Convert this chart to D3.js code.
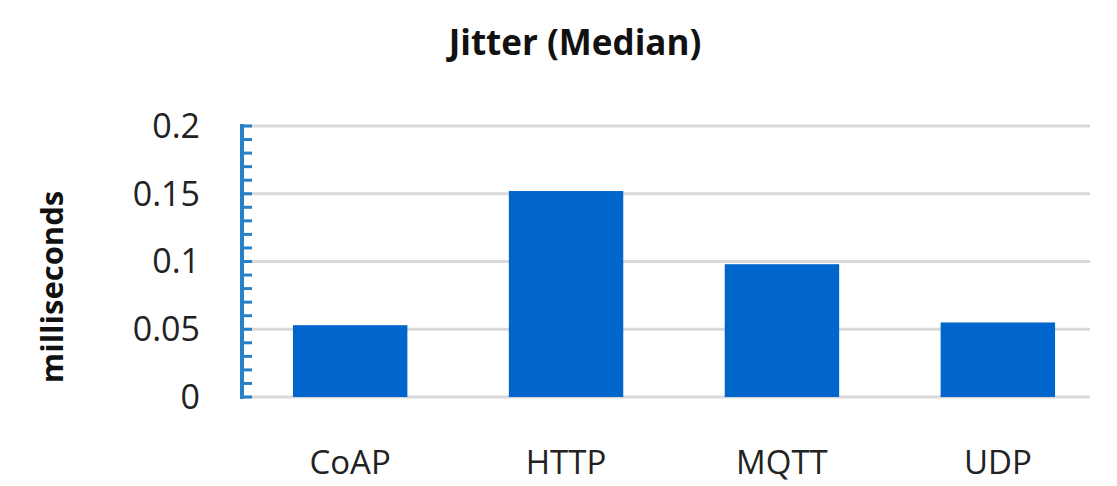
<!DOCTYPE html><html><head><meta charset="utf-8"><script src="https://cdn.jsdelivr.net/npm/d3@7"></script>
<style>body{margin:0;background:#fff}text{font-family:"Open Sans",sans-serif}</style></head><body><svg id="c" width="1117" height="486"></svg>
<script>
const categories=["CoAP","HTTP","MQTT","UDP"];
const values=[0.053,0.152,0.098,0.055];
const yTicks=[0,0.05,0.1,0.15,0.2];
const svg=d3.select("#c");
const L=242,R=1106,T=126,B=397,GR=1090;
const x=d3.scaleBand().domain(categories).range([L,R]).paddingInner(0.47).paddingOuter(0.236);
const y=d3.scaleLinear().domain([0,0.2]).range([B,T]);
svg.append("g").selectAll("line").data(yTicks).join("line")
 .attr("x1",L).attr("x2",GR).attr("y1",d=>y(d)).attr("y2",d=>y(d)).attr("stroke","#d9d9d9").attr("stroke-width",3);
svg.append("g").selectAll("rect").data(values).join("rect")
 .attr("x",(d,i)=>x(categories[i])).attr("width",x.bandwidth()).attr("y",d=>y(d)).attr("height",d=>B-y(d)).attr("fill","#0066cc");
const minor=d3.range(0,0.2001,0.01);
svg.append("g").selectAll("line").data(minor).join("line")
 .attr("x1",L).attr("x2",L+10).attr("y1",d=>y(d)).attr("y2",d=>y(d)).attr("stroke","#2980c4").attr("stroke-width",3);
svg.append("line").attr("x1",L).attr("x2",L).attr("y1",T-2).attr("y2",B+2).attr("stroke","#2980c4").attr("stroke-width",4);
svg.append("g").selectAll("text").data(yTicks).join("text")
 .attr("x",200).attr("y",d=>y(d)).attr("dy","0.35em").attr("text-anchor","end").attr("font-size",34).attr("fill","#222").text(d=>d3.format("")(d));
svg.append("g").selectAll("text").data(categories).join("text")
 .attr("x",d=>x(d)+x.bandwidth()/2).attr("y",474).attr("text-anchor","middle").attr("font-size",33).attr("fill","#222").text(d=>d);
svg.append("text").attr("x",575).attr("y",55).attr("text-anchor","middle").attr("font-size",35).attr("font-weight","bold").attr("fill","#111").text("Jitter (Median)");
svg.append("text").attr("transform","translate(63,287) rotate(-90)").attr("text-anchor","middle").attr("font-size",31).attr("font-weight","bold").attr("fill","#111").text("milliseconds");
</script></body></html>
